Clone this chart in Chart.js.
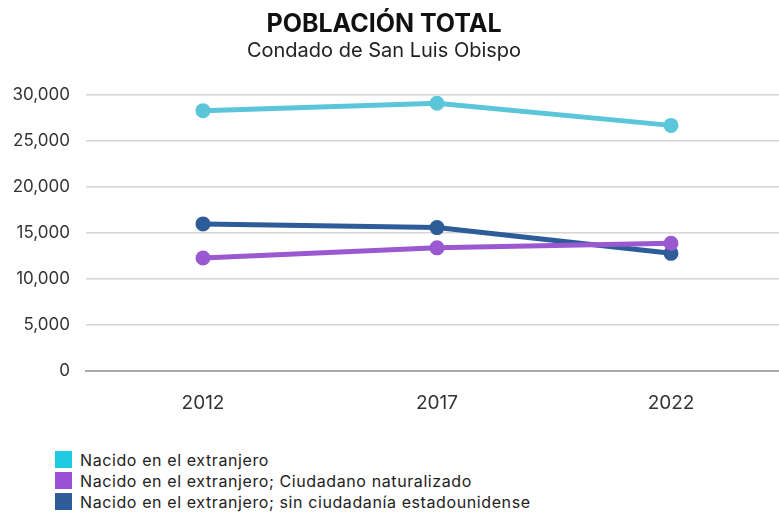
<!DOCTYPE html>
<html>
<head>
<meta charset="utf-8">
<script src="https://cdn.jsdelivr.net/npm/chart.js@4/dist/chart.umd.min.js"></script>
<style>
  body { margin: 0; background: #fff; font-family: Inter, "Noto Sans", sans-serif; }
  #wrap { position: relative; width: 779px; height: 514px; overflow: hidden; }
  #legend { position: absolute; left: 55px; top: 449px; font-size: 16px; letter-spacing: 0.6px; color: #222; }
  #legend div { display: flex; align-items: center; height: 21px; }
  #legend span.box { width: 17px; height: 17px; margin-right: 8px; display: inline-block; }
</style>
</head>
<body>
<div id="wrap">
  <!-- a bit wider than the page: the plot runs past the right edge, as in the original -->
  <canvas id="popChart" width="788" height="440"></canvas>
  <div id="legend"></div>
</div>
<script>
const years = ['2012', '2017', '2022'];
const seriesNames = [
    'Nacido en el extranjero',
    'Nacido en el extranjero; Ciudadano naturalizado',
    'Nacido en el extranjero; sin ciudadanía estadounidense'
];
const foreignBorn = [28300, 29100, 26700];
const naturalized = [12300, 13400, 13900];
const nonCitizen = [16000, 15600, 12800];
const lineColors = ['#5BC6DA', '#9B59D1', '#2E5C99'];
const legendColors = ['#1FCBE0', '#9B51D6', '#2D5C99'];

const font = 'Inter, "Noto Sans", sans-serif';

function makeDataset(label, data, color) {
    return {
        label: label,
        data: data,
        borderColor: color,
        backgroundColor: color,
        borderWidth: 5,
        pointRadius: 5,
        pointHoverRadius: 5,
        tension: 0
    };
}

const ctx = document.getElementById('popChart').getContext('2d');
const popChart = new Chart(ctx, {
    type: 'line',
    data: {
        labels: years,
        datasets: [
            makeDataset(seriesNames[0], foreignBorn, lineColors[0]),
            makeDataset(seriesNames[1], naturalized, lineColors[1]),
            makeDataset(seriesNames[2], nonCitizen, lineColors[2])
        ]
    },
    options: {
        responsive: false,
        animation: false,
        layout: { autoPadding: false, padding: { left: -20, right: 0, top: 0, bottom: 12 } },
        plugins: {
            legend: { display: false },
            tooltip: { enabled: false },
            title: {
                display: true,
                text: 'POBLACIÓN TOTAL',
                color: '#111',
                font: { family: font, size: 25, weight: 'bold' },
                padding: { top: 9, bottom: 0 }
            },
            subtitle: {
                display: true,
                text: 'Condado de San Luis Obispo',
                color: '#222',
                font: { family: font, size: 20 },
                padding: { top: 0, bottom: 32 }
            }
        },
        scales: {
            x: {
                offset: true,
                grid: { display: false },
                border: { color: '#aaa', width: 2 },
                ticks: {
                    color: '#333',
                    font: { family: font, size: 19 },
                    padding: 13
                }
            },
            y: {
                min: 0,
                max: 30000,
                border: { display: false },
                grid: { color: '#d6d6d6', lineWidth: 1.5, drawTicks: false },
                ticks: {
                    stepSize: 5000,
                    color: '#333',
                    font: { family: font, size: 17 },
                    padding: 16,
                    callback: v => v.toLocaleString('en-US')
                },
                afterFit: axis => { axis.width = 106; }
            }
        }
    }
});

// Legend, one entry per line, built from the datasets
const legendEl = document.getElementById('legend');
popChart.data.datasets.forEach((ds, i) => {
    const row = document.createElement('div');
    const box = document.createElement('span');
    box.className = 'box';
    box.style.background = legendColors[i];
    row.appendChild(box);
    row.appendChild(document.createTextNode(ds.label));
    legendEl.appendChild(row);
});
</script>
</body>
</html>
